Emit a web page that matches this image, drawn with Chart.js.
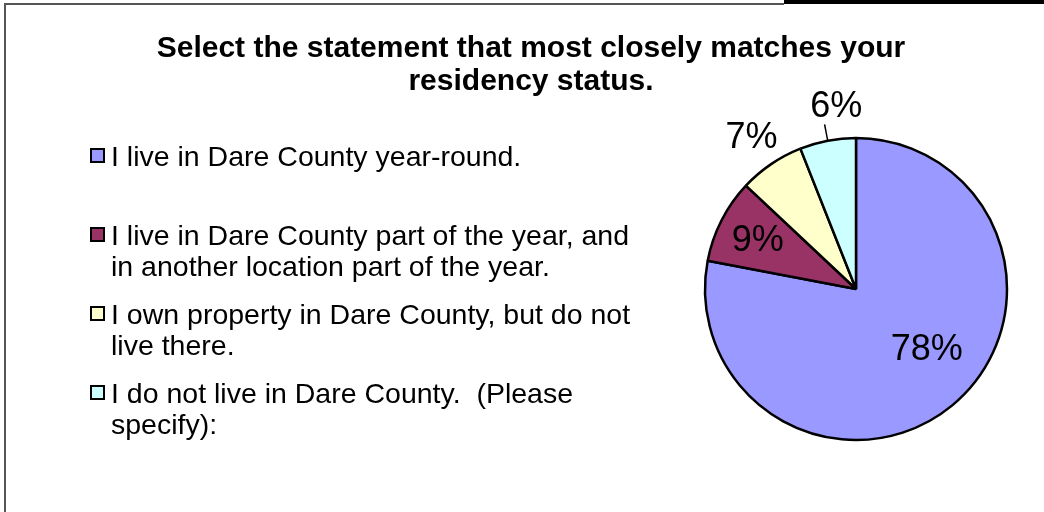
<!DOCTYPE html>
<html>
<head>
<meta charset="utf-8">
<script src="https://cdn.jsdelivr.net/npm/chart.js@4.4.0/dist/chart.umd.min.js"></script>
<style>
html,body{margin:0;padding:0;background:#fff;}
#wrap{width:1044px;height:512px;position:relative;}
</style>
</head>
<body>
<div id="wrap"><canvas id="myChart" width="1044" height="512"></canvas></div>
<script>
var titleLines = ["Select the statement that most closely matches your", "residency status."];
var categories = [
    ["I live in Dare County year-round."],
    ["I live in Dare County part of the year, and", "in another location part of the year."],
    ["I own property in Dare County, but do not", "live there."],
    ["I do not live in Dare County.  (Please", "specify):"]
];
var percents = [78, 9, 7, 6];
var sliceColors = ['#9999FF', '#993366', '#FFFFCC', '#CCFFFF'];

// where each % label sits, as a fraction of the radius (plus small nudges)
var labelRadius = [0.62, 0.73, 1.23, 1.23];
var labelNudge = [[11, -11], [0, 2], [0, 3], [15, 1]];
var leaderLine = [false, false, false, true];

var FONT = '"Liberation Sans", Arial, sans-serif';

var decor = {
    id: 'decor',
    beforeDraw: function(chart){
        var ctx = chart.ctx;
        ctx.save();
        ctx.fillStyle = '#fff';
        ctx.fillRect(0, 0, chart.width, chart.height);
        ctx.strokeStyle = '#555';
        ctx.lineWidth = 2;
        ctx.beginPath();
        ctx.moveTo(5, chart.height);
        ctx.lineTo(5, 4);
        ctx.lineTo(784, 4);
        ctx.stroke();
        ctx.fillStyle = '#000';
        ctx.fillRect(784, 0, chart.width - 784, 4);
        ctx.restore();
    },
    afterDraw: function(chart){
        var ctx = chart.ctx;
        ctx.save();
        // title
        ctx.fillStyle = '#000';
        ctx.textAlign = 'center';
        ctx.textBaseline = 'alphabetic';
        ctx.font = 'bold 30px ' + FONT;
        titleLines.forEach(function(t, i){
            ctx.fillText(t, 531, 57 + i * 33);
        });

        // legend
        ctx.textAlign = 'left';
        ctx.font = '28.5px ' + FONT;
        categories.forEach(function(lines, i){
            var base = 166 + i * 79;
            ctx.fillStyle = sliceColors[i];
            ctx.fillRect(91, base - 17, 13, 13);
            ctx.strokeStyle = '#000';
            ctx.lineWidth = 2;
            ctx.strokeRect(91, base - 17, 13, 13);
            ctx.fillStyle = '#000';
            lines.forEach(function(l, j){
                ctx.fillText(l, 111, base + j * 31);
            });
        });

        // percent labels
        var meta = chart.getDatasetMeta(0);
        ctx.textAlign = 'center';
        ctx.textBaseline = 'middle';
        ctx.font = '36px ' + FONT;
        meta.data.forEach(function(arc, i){
            var p = arc.getProps(['x', 'y', 'startAngle', 'endAngle', 'outerRadius'], true);
            var mid = (p.startAngle + p.endAngle) / 2;
            var r = p.outerRadius * labelRadius[i];
            var x = p.x + Math.cos(mid) * r + labelNudge[i][0];
            var y = p.y + Math.sin(mid) * r + labelNudge[i][1];
            if (leaderLine[i]) {
                ctx.strokeStyle = '#000';
                ctx.lineWidth = 1.5;
                ctx.beginPath();
                ctx.moveTo(p.x + Math.cos(mid) * p.outerRadius, p.y + Math.sin(mid) * p.outerRadius);
                ctx.lineTo(p.x + Math.cos(mid) * p.outerRadius * 1.11, p.y + Math.sin(mid) * p.outerRadius * 1.11);
                ctx.stroke();
            }
            ctx.fillStyle = '#000';
            ctx.fillText(percents[i] + '%', x, y);
        });
        ctx.restore();
    }
};

var ctx = document.getElementById('myChart').getContext('2d');
var myChart = new Chart(ctx, {
    type: 'pie',
    data: {
        labels: categories.map(function(c){ return c.join(' '); }),
        datasets: [{
            data: percents,
            backgroundColor: sliceColors,
            borderColor: '#000',
            borderWidth: 2.5,
            radius: 151
        }]
    },
    options: {
        responsive: false,
        animation: false,
        layout: { padding: { left: 686, right: 18, top: 119, bottom: 53 } },
        plugins: {
            legend: { display: false },
            title: { display: false },
            tooltip: { enabled: false }
        }
    },
    plugins: [decor]
});
</script>
</body>
</html>
